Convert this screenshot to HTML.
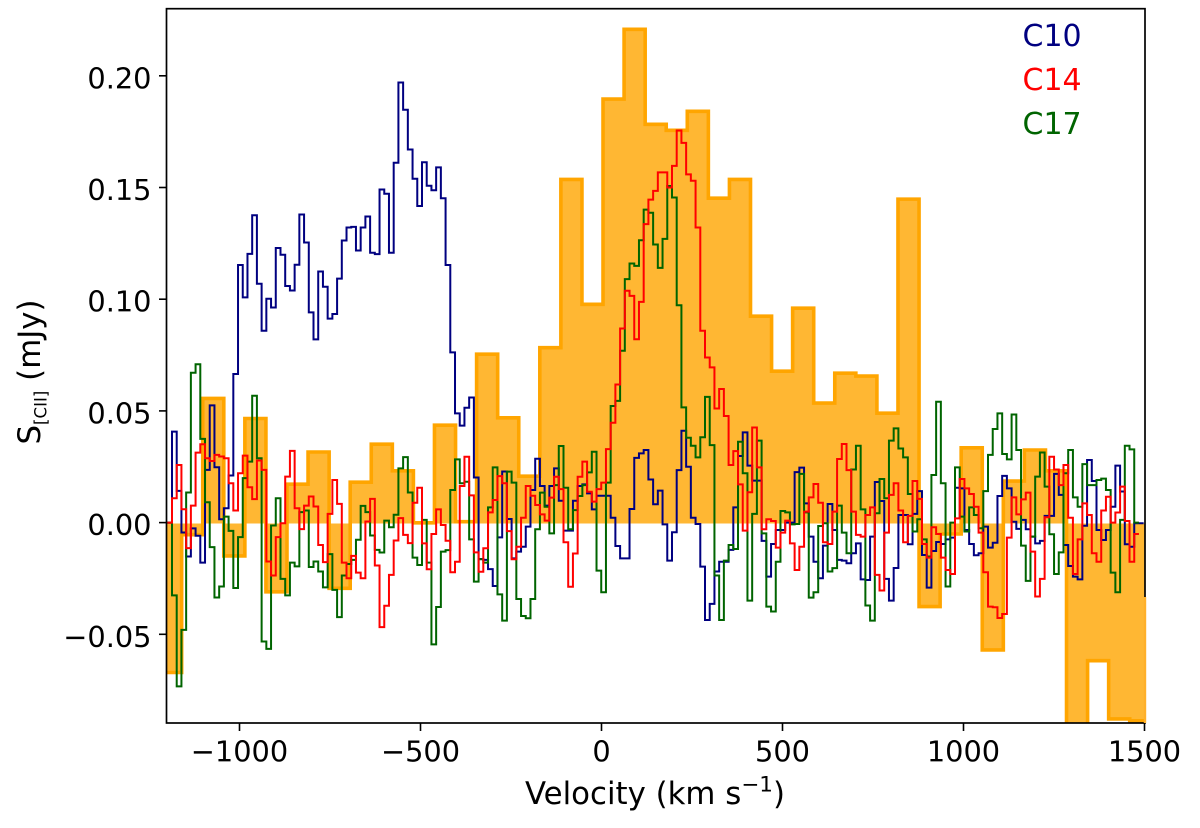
<!DOCTYPE html>
<html lang="en">
<head>
<meta charset="utf-8">
<title>[CII] spectra</title>
<style>
html,body{margin:0;padding:0;background:#fff;}
svg{display:block;}
text{font-family:"DejaVu Sans","Liberation Sans",sans-serif;fill:#000;}
</style>
</head>
<body>
<svg id="chart" xmlns="http://www.w3.org/2000/svg" width="1200" height="828" viewBox="0 0 1200 828">
  <defs><clipPath id="plot-clip"><rect x="167" y="9" width="978" height="714"></rect></clipPath></defs>
  <rect x="0" y="0" width="1200" height="828" fill="#fff"></rect>
  <g clip-path="url(#plot-clip)"><g id="marks" transform="translate(0,0.9)"></g></g>
  <g id="ticks"></g>
  <rect x="166.5" y="8.7" width="978.5" height="714.3" fill="none" stroke="#000" stroke-width="1.7"></rect>
  <line id="edge" stroke="#ffb02a" stroke-width="2.4"></line>
  <text x="655" y="804" font-size="30.8" text-anchor="middle">Velocity (km s<tspan font-size="21.5" dy="-12.5">−1</tspan><tspan dy="12.5">)</tspan></text>
  <text transform="translate(40,444.5) rotate(-90)" font-size="30.8">S<tspan font-size="16.6" dy="6.7">[CII]</tspan><tspan dy="-6.7"> (mJy)</tspan></text>
  <text x="1022.5" y="46" font-size="30" style="fill:#000080">C10</text>
  <text x="1022.5" y="90" font-size="30" style="fill:#ff0000">C14</text>
  <text x="1022.5" y="134" font-size="30" style="fill:#006400">C17</text>
</svg>
<script>
const xTickValues = [-1000, -500, 0, 500, 1000, 1500];
const xTickLabels = ['−1000', '−500', '0', '500', '1000', '1500'];
const yTickValues = [-0.05, 0, 0.05, 0.10, 0.15, 0.20];
const yTickLabels = ['−0.05', '0.00', '0.05', '0.10', '0.15', '0.20'];

const stackStartVelocity = -1218;
const stackBinWidth = 58.2;
const stackedValues = [-0.0667,-0.005,0.056,-0.0145,0.047,-0.0306,0.0176,0.032,-0.029,0.0185,0.0355,0.0236,0.0003,0.044,0.0008,0.0758,0.0473,0.0212,0.0787,0.154,0.0981,0.19,0.2212,0.1787,0.176,0.1845,0.1456,0.154,0.0928,0.0682,0.0964,0.0539,0.0673,0.066,0.0494,0.1452,-0.0372,-0.0047,0.0339,-0.0566,0.019,0.0329,0.0236,-0.1,-0.0614,-0.0875,-0.0883];

const channelStartVelocity = -1199.5;
const channelWidth = 13.03;
// Flux densities per channel, in micro-Jansky
const c10Values = [0.4,41.1,14.6,-4,-14.8,-2.2,-5.5,-17.5,24,52.9,25.2,1.9,6.8,21.5,66.9,
115.7,101.2,120.7,138,107.3,86.3,100.6,96.7,123.3,120.3,106.3,104.3,115.8,138.3,125.8,94.5,82.4,112.8,106,91.7,93.8,109.6,126.7,132.5,132.8,122.2,132.5,137.4,121.2,120.6,149.5,147.6,121.2,161.5,197.4,185.2,167.4,154.3,142.1,161.7,151.2,149.2,159.4,145.6,115.7,76.6,
49.3,43.8,51.8,56.4,20.6,-15.9,-16.3,-20.4,-28,-6.2,23.3,2,-15.6,-12.6,-10.4,-1.4,15,29,16.8,8,16.8,24.7,10.2,-3.2,-3.2,10.2,16.8,17.5,13.5,6.3,12.4,12.4,12.4,2.6,-10.1,-15.6,-15.6,6.5,29.4,31.4,32.9,19.7,
8.6,14.7,-0.4,-16.6,-3.9,23.9,41.5,25.4,2.6,-0.2,-19.3,-43.2,-36,-21.5,-17.1,-17.1,-11.8,7.2,30.2,40.8,25.9,19.2,19.2,-7.8,-23.8,-9.2,-2.9,-2.9,0.4,0.4,23,25,9,-5.9,-17.1,-24.5,-9.9,8.7,-2.9,-16.3,-16.6,-17.8,-13.3,-8.9,-25,-25.3,-5.9,18.6,10.1,-24.8,-34.5,-19.9,3.8,3.8,
-9.3,4.3,14.5,-14.1,-28.7,-12.3,-8.3,-9.2,-7.1,-6.3,16,15.7,-2.9,-9.2,-14.2,-13.3,-1.4,-10.8,-8.6,12.3,21.3,15.7,0.8,-2.4,1.6,-2.6,-5.9,-8.9,-7.8,3.4,3.4,22.2,12.8,-9.6,-19,-23.8,-25,-1,28.4,19,-2.9,-7.4,-2.9,7.5,25.9,14.3,-9.3,-10.4,0.1,0.1];
const c14Values = [0.4,11.3,26.2,6.4,-11,8,31.7,35.5,29.2,28,30.7,30,29.2,18,5.8,22.5,30.4,16.2,10.9,28.2,24,-17,-23.3,-6.1,0.1,21,32.5,6.8,-2.5,8,12.1,7.6,-9.6,-17.3,4.3,19.5,8.8,-17.5,-24.5,-14.5,-22,-24.5,0.9,11,-18.8,-46.4,-36.8,-23,-7.6,2.4,-5.1,-8.8,
9.3,16,-8.9,-20.5,-4.7,6.3,-0.7,-7.7,-21.8,-17.1,16.8,29.9,12.6,-12.9,-21.6,-11.1,5,10.5,21.2,18,-3.4,-16,-10.4,2.6,16.8,12.4,8.3,4.1,1.3,11.6,20.9,15.4,-8.4,-28.3,-13.4,20.9,27.7,14.2,9.8,15.4,18.3,33.3,45.1,62.2,
87.3,104.2,101.9,82.5,99.2,134,145,148.9,157.2,157.2,150.4,160.1,175.9,170.4,156.3,153.4,132.5,86.3,74.3,69.9,51.5,60.2,48.1,
26.2,32.4,17.5,-3.2,14,43,25.1,-2.6,1.9,1.1,-10.8,-4.1,1.3,-8.9,-20.8,-10.4,5.3,11.7,17.7,9.3,-8.4,-9.2,5.3,28.9,35.6,23.9,5.3,-5.1,-5.9,3.8,7.2,-23,-30,-4.1,12.8,18,5.8,-8.4,
3.4,19,11,-9.2,-15.3,-1.7,-4.7,-15.3,-20.8,-22.6,2.3,19.9,15.7,13.2,7.5,-4.1,-21.8,-37.2,-37.5,-42.3,-40.5,-6.3,11.7,4.1,10.8,13.8,-12.6,-32.7,-24.8,2.8,29.9,24.2,17.2,26.2,2.6,-22.6,-7.1,9,3.8,-13.3,-17.1,5.8,12,0.4,4.9,16.5,1.1,-17.1,-4.7];
const c17Values = [0.4,-32.2,-72.9,-47.6,13.9,67.5,71.3,37.9,9.5,-10.6,-33.1,-28.2,3.1,-3.3,-28.9,-6.1,20.3,27.7,57.2,29.2,-52.8,-56.1,-0.9,11.3,-24.8,-32.2,-17.5,-19.2,5.1,5.8,-19.5,-17,-21.5,-28.6,-13.7,-29.7,-41.9,-23.3,-18.1,-16.3,-7.3,7.9,5.1,-5.4,-11.8,-13,1.3,-1.7,3.9,24.7,29.7,13.9,
-15.3,-18.6,1.6,-17.5,-54.1,-37.4,-12.6,-11.9,15,28.7,18,18.7,-7.1,-26,-16,-17.5,7.2,25.1,-31.7,-43.5,23.2,18.3,-33.8,-41.4,-42.4,-33.8,-2.6,13.8,7.5,-4.4,17.2,34.7,16,-2.6,6,12.3,17.2,22.9,32.1,-21.1,-30.8,18.3,52.6,54.9,
77.3,109.4,116.4,115.3,126.8,140.5,139.1,124.9,114.4,127.4,151.1,145.9,97.7,52,
38.4,34.8,29.6,38.6,56.7,35.1,-23.3,-43.2,-16.6,-9.6,-11.4,36.6,22.5,-34.5,4.3,37.1,-4.4,-37.2,-39.4,-17.1,5.6,5,-0.4,-0.2,22.2,5,-33.2,-30.8,-1.1,0.1,-21.5,-20,8,-4.1,-13.3,24.2,34.8,6.3,-36.7,-43.5,4.6,19.9,11.3,37.1,42.6,33.6,29.6,
13.2,-3.6,1.9,-7.1,-14.8,21.7,54.5,18,-28.2,0.4,25.1,3.1,-3.6,7.2,3.8,-2.1,14.5,30.7,42.3,49.3,31.1,28.7,48.8,32.9,-9.9,-25.7,-5.9,21,31.8,16.5,-4.8,-22.6,-12.9,22.5,32.9,11.7,7.5,26.6,17.2,17.2,19.5,20.1,15,-22,-30.8,1.6,34.8,33.2,0.4];

const NS = 'http://www.w3.org/2000/svg';
const xScale = v => 601.5 + v * 0.362;
const yScale = v => 522.6 - v * 2234;
const marks = document.getElementById('marks');
const ticks = document.getElementById('ticks');

function stepPath(values, start, width, toY) {
  let d = '';
  values.forEach((val, i) => {
    const y = toY(val).toFixed(2);
    const x0 = xScale(start + i * width).toFixed(2);
    const x1 = xScale(start + (i + 1) * width).toFixed(2);
    d += (i === 0 ? 'M' + x0 + ' ' + y : 'V' + y) + 'H' + x1;
  });
  return d;
}
function makePath(d, attrs) {
  const p = document.createElementNS(NS, 'path');
  p.setAttribute('d', d);
  Object.keys(attrs).forEach(k => p.setAttribute(k, attrs[k]));
  marks.appendChild(p);
  return p;
}

const stackLine = stepPath(stackedValues, stackStartVelocity, stackBinWidth, yScale);
const stackFill = makePath(stackLine + 'V' + yScale(0) + 'H' + xScale(stackStartVelocity).toFixed(2) + 'Z', {fill: '#ffa500', 'fill-opacity': '0.8', stroke: 'none'});


const stackStroke = makePath(stackLine, {fill: 'none', stroke: '#ffa500', 'stroke-width': '3.6'});



const microToY = v => yScale(v / 1000);
const c10Line = makePath(stepPath(c10Values, channelStartVelocity, channelWidth, microToY), {fill: 'none', stroke: '#000080', 'stroke-width': '2'});


const c17Line = makePath(stepPath(c17Values, channelStartVelocity, channelWidth, microToY), {fill: 'none', stroke: '#006400', 'stroke-width': '2'});


const c14Line = makePath(stepPath(c14Values, channelStartVelocity, channelWidth, microToY), {fill: 'none', stroke: '#ff0000', 'stroke-width': '2'});



const edge = document.getElementById('edge');
edge.setAttribute('x1', 1145);
edge.setAttribute('x2', 1145);
edge.setAttribute('y1', 597);
edge.setAttribute('y2', 723);

xTickValues.forEach((v, i) => {
  const x = xScale(v);
  const line = document.createElementNS(NS, 'line');
  
  
  line.setAttribute('x1', x);
  line.setAttribute('x2', x);
  line.setAttribute('y1', 723);
  line.setAttribute('y2', 731);
  line.setAttribute('stroke', '#000');
  line.setAttribute('stroke-width', '1.6');
  ticks.appendChild(line);
  const label = document.createElementNS(NS, 'text');
  
  
  label.setAttribute('x', x);
  label.setAttribute('y', 761.5);
  label.setAttribute('font-size', '28.8');
  label.setAttribute('text-anchor', 'middle');
  label.textContent = xTickLabels[i];
  ticks.appendChild(label);
});
yTickValues.forEach((v, i) => {
  const y = yScale(v);
  const line = document.createElementNS(NS, 'line');
  
  
  line.setAttribute('x1', 159);
  line.setAttribute('x2', 167);
  line.setAttribute('y1', y);
  line.setAttribute('y2', y);
  line.setAttribute('stroke', '#000');
  line.setAttribute('stroke-width', '1.6');
  ticks.appendChild(line);
  const label = document.createElementNS(NS, 'text');
  
  
  label.setAttribute('x', 151.5);
  label.setAttribute('y', y + 12.5);
  label.setAttribute('font-size', '28.8');
  label.setAttribute('text-anchor', 'end');
  label.textContent = yTickLabels[i];
  ticks.appendChild(label);
});
</script>
</body>
</html>
